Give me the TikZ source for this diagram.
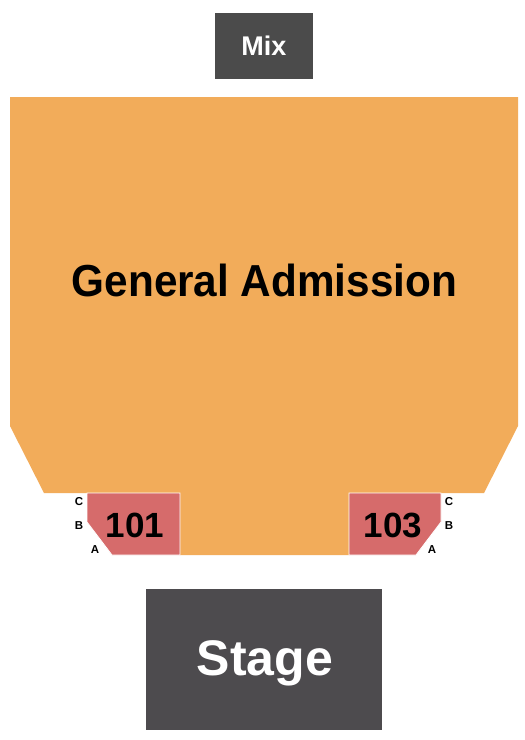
\documentclass[tikz,border=0pt]{standalone}
\usepackage{fontspec}
\setmainfont{Liberation Sans}
\definecolor{gaorange}{HTML}{F2AC5A}
\definecolor{secred}{HTML}{D66B6B}
\definecolor{stagegray}{HTML}{4D4B4E}
\definecolor{mixgray}{HTML}{4B4B4B}
\begin{document}
\begin{tikzpicture}[x=1pt,y=-1pt,
  lbl/.style={font=\bfseries, inner sep=0pt, anchor=center},
  rowlbl/.style={font=\bfseries\fontsize{11.5}{13}\selectfont, inner sep=0pt, anchor=center},
  sec/.style={fill=secred, draw=white, line width=0.8pt}]
\useasboundingbox[fill=white] (0,0) rectangle (525,740);
% Mix
\fill[mixgray] (215,13) rectangle (313,79);
\node[lbl, text=white, font=\bfseries\fontsize{27}{30}\selectfont] (mix) at (264,46) {Mix};
% General Admission
\fill[gaorange] (10,97) -- (518,97) -- (518,426) -- (484,493) -- (349,493) -- (349,555)
  -- (180,555) -- (180,493) -- (44,493) -- (10,426) -- cycle;
\node[lbl, font=\bfseries\fontsize{42.3}{46}\selectfont, yscale=1.06] (ga) at (264.5,280) {General Admission};
% Section 101
\draw[sec] (87,493) -- (180,493) -- (180,555) -- (112,555) -- (87,522) -- cycle;
\node[lbl, font=\bfseries\fontsize{35}{38}\selectfont] (s101) at (135,525) {101};
% Section 103
\draw[sec] (349,493) -- (441,493) -- (441,522) -- (416,555) -- (349,555) -- cycle;
\node[lbl, font=\bfseries\fontsize{35}{38}\selectfont] (s103) at (393,525) {103};
% Row labels
\node[rowlbl] (lc) at (79,502) {C};
\node[rowlbl] (lb) at (79,526) {B};
\node[rowlbl] (la) at (95,550) {A};
\node[rowlbl] (rc) at (449,502) {C};
\node[rowlbl] (rb) at (449,526) {B};
\node[rowlbl] (ra) at (432,550) {A};
% Stage
\fill[stagegray] (146,589) rectangle (382,730);
\node[lbl, text=white, font=\bfseries\fontsize{50}{54}\selectfont] (stage) at (265,663) {Stage};
\end{tikzpicture}
\end{document}
